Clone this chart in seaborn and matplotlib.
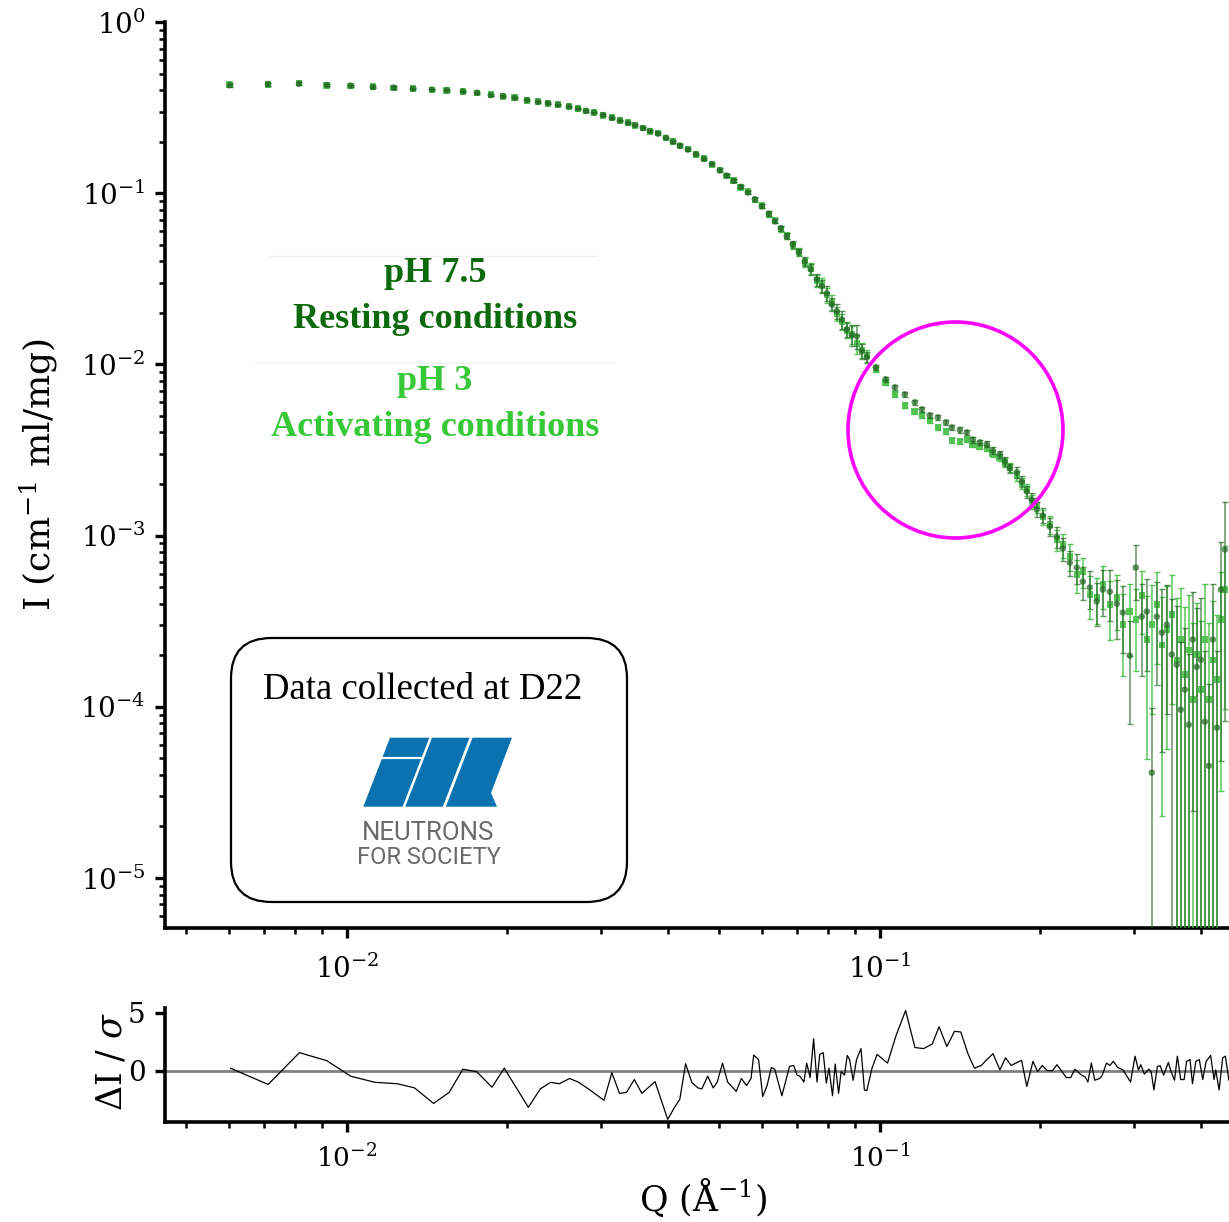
import matplotlib
matplotlib.use("Agg")
import matplotlib.pyplot as plt
import seaborn as sns
import numpy as np
from matplotlib.patches import Ellipse, FancyBboxPatch, Polygon
from matplotlib.lines import Line2D
from matplotlib.ticker import LogLocator, NullFormatter, FixedLocator

# ---------------- data ----------------
q = [0.00603, 0.00711, 0.00813, 0.00917, 0.01017, 0.01119, 0.01225, 0.01330, 0.01444, 0.01540,
     0.01651, 0.01754, 0.01863, 0.01962, 0.02066, 0.02176, 0.02282, 0.02383, 0.02488, 0.02609,
     0.02713, 0.02808, 0.02907, 0.03022, 0.03142, 0.03252, 0.03367, 0.03470, 0.03592, 0.03703,
     0.03833, 0.03967, 0.04089, 0.04215, 0.04363, 0.04516, 0.04675, 0.04839, 0.05009, 0.05162,
     0.05321, 0.05484, 0.05653, 0.05827, 0.06006, 0.06190, 0.06353, 0.06520, 0.06691, 0.06867,
     0.07047, 0.07232, 0.07422, 0.07617, 0.07784, 0.07954, 0.08126, 0.08304, 0.08486, 0.08671,
     0.08861, 0.09053, 0.09251, 0.09453, 0.09829, 0.1026, 0.1067, 0.1114, 0.1163, 0.1199,
     0.1241, 0.1285, 0.1330, 0.1365, 0.1413, 0.1456, 0.1494, 0.1540, 0.1588, 0.1629,
     0.1679, 0.1716, 0.1754, 0.1807, 0.1847, 0.1887, 0.1928, 0.1971, 0.2022, 0.2084,
     0.2148, 0.2205, 0.2272, 0.2342, 0.2404, 0.2477, 0.2553, 0.2621, 0.2701, 0.2784,
     0.2857, 0.2944, 0.3022, 0.3101, 0.3169, 0.3238, 0.3309, 0.3381, 0.3455, 0.3530,
     0.3607, 0.3670, 0.3734, 0.3799, 0.3865, 0.3932, 0.4003, 0.4072, 0.4143, 0.4216,
     0.4289, 0.4364, 0.4440]

i_ph75 = [0.428, 0.434, 0.437, 0.428, 0.425, 0.417, 0.414, 0.408, 0.403, 0.399,
          0.393, 0.386, 0.374, 0.369, 0.361, 0.350, 0.342, 0.336, 0.329, 0.321,
          0.312, 0.303, 0.296, 0.286, 0.276, 0.266, 0.258, 0.250, 0.240, 0.231,
          0.223, 0.211, 0.200, 0.190, 0.180, 0.169, 0.159, 0.148, 0.136, 0.127,
          0.118, 0.109, 0.101, 0.0922, 0.0839, 0.0759, 0.0686, 0.0624, 0.0560, 0.0503,
          0.0452, 0.0400, 0.0359, 0.0314, 0.0286, 0.0260, 0.0224, 0.0204, 0.0183, 0.0160,
          0.0148, 0.0146, 0.0119, 0.0110, 0.00961, 0.00818, 0.00734, 0.00668, 0.00600, 0.00546,
          0.00504, 0.00490, 0.00458, 0.00428, 0.00414, 0.00400, 0.00364, 0.00350, 0.00341, 0.00314,
          0.00298, 0.00271, 0.00247, 0.00234, 0.00207, 0.00181, 0.00162, 0.00142, 0.00131, 0.00113,
          0.000987, 0.000840, 0.000695, 0.000650, 0.000539, 0.000497, 0.000412, 0.000483, 0.000470, 0.000400,
          0.000355, 0.000199, 0.000650, 0.000336, 0.000360, 0.0000412, 0.000336, 0.000271, 0.000302, 0.000202,
          0.000176, 0.0000961, 0.000126, 0.0000785, 0.000247, 0.000171, 0.000188, 0.0000818, 0.0000452, 0.000247,
          0.0000755, 0.000483, 0.000829]

i_ph3 = [0.432, 0.430, 0.440, 0.426, 0.424, 0.419, 0.412, 0.410, 0.401, 0.397,
         0.394, 0.384, 0.376, 0.367, 0.362, 0.349, 0.343, 0.334, 0.330, 0.320,
         0.313, 0.302, 0.297, 0.285, 0.277, 0.265, 0.259, 0.249, 0.241, 0.230,
         0.224, 0.210, 0.201, 0.189, 0.181, 0.168, 0.160, 0.147, 0.137, 0.126,
         0.119, 0.108, 0.102, 0.0915, 0.0845, 0.0752, 0.0692, 0.0618, 0.0566, 0.0497,
         0.0458, 0.0395, 0.0364, 0.0308, 0.0292, 0.0254, 0.0230, 0.0198, 0.0178, 0.0158,
         0.0150, 0.0132, 0.0121, 0.0112, 0.00935, 0.00785, 0.00668, 0.00576, 0.00531, 0.00504,
         0.00471, 0.00428, 0.00406, 0.00359, 0.00354, 0.00364, 0.00341, 0.00332, 0.00323, 0.00302,
         0.00286, 0.00267, 0.00250, 0.00224, 0.00202, 0.00186, 0.00158, 0.00150, 0.00128, 0.00116,
         0.000948, 0.000886, 0.000754, 0.000591, 0.000616, 0.000452, 0.000434, 0.000517, 0.000395, 0.000434,
         0.000302, 0.000360, 0.000323, 0.000446, 0.000247, 0.000302, 0.000395, 0.000230, 0.000282, 0.000345,
         0.000188, 0.000247, 0.000154, 0.000215, 0.000110, 0.000202, 0.000126, 0.000247, 0.000110, 0.000188,
         0.000144, 0.000323, 0.000483]

relerr_ph75 = [0.02, 0.02, 0.02, 0.015, 0.015, 0.015, 0.015, 0.012, 0.012, 0.012,
               0.012, 0.012, 0.012, 0.012, 0.012, 0.012, 0.012, 0.012, 0.012, 0.012,
               0.012, 0.012, 0.012, 0.012, 0.012, 0.012, 0.012, 0.012, 0.012, 0.012,
               0.015, 0.015, 0.015, 0.015, 0.015, 0.015, 0.015, 0.018, 0.018, 0.018,
               0.02, 0.02, 0.02, 0.025, 0.025, 0.03, 0.03, 0.035, 0.04, 0.05,
               0.05, 0.06, 0.07, 0.08, 0.09, 0.10, 0.09, 0.10, 0.12, 0.10,
               0.14, 0.16, 0.10, 0.08, 0.03, 0.03, 0.03, 0.03, 0.03, 0.03,
               0.03, 0.03, 0.03, 0.03, 0.035, 0.035, 0.04, 0.04, 0.04, 0.05,
               0.05, 0.06, 0.06, 0.07, 0.07, 0.08, 0.09, 0.10, 0.10, 0.12,
               0.14, 0.15, 0.17, 0.20, 0.22, 0.25, 0.28, 0.30, 0.33, 0.38,
               0.42, 0.60, 0.35, 0.55, 0.55, 1.40, 0.60, 0.80, 0.70, 1.10,
               1.20, 1.50, 1.30, 1.60, 0.90, 1.20, 1.30, 1.60, 2.00, 1.10,
               1.80, 0.90, 0.90]

relerr_ph3 = [0.02, 0.02, 0.02, 0.015, 0.015, 0.015, 0.015, 0.012, 0.012, 0.012,
              0.012, 0.012, 0.012, 0.012, 0.012, 0.012, 0.012, 0.012, 0.012, 0.012,
              0.012, 0.012, 0.012, 0.012, 0.012, 0.012, 0.012, 0.012, 0.012, 0.012,
              0.015, 0.015, 0.015, 0.015, 0.015, 0.015, 0.015, 0.018, 0.018, 0.018,
              0.02, 0.02, 0.02, 0.025, 0.025, 0.03, 0.03, 0.035, 0.04, 0.05,
              0.05, 0.06, 0.07, 0.08, 0.09, 0.10, 0.10, 0.09, 0.11, 0.10,
              0.12, 0.13, 0.10, 0.08, 0.03, 0.03, 0.03, 0.03, 0.03, 0.03,
              0.03, 0.03, 0.03, 0.03, 0.035, 0.035, 0.04, 0.04, 0.04, 0.05,
              0.05, 0.06, 0.06, 0.07, 0.07, 0.08, 0.09, 0.10, 0.10, 0.12,
              0.14, 0.16, 0.18, 0.22, 0.20, 0.28, 0.30, 0.28, 0.38, 0.35,
              0.50, 0.45, 0.50, 0.40, 0.80, 0.70, 0.55, 0.90, 0.80, 0.70,
              1.30, 1.00, 1.50, 1.10, 1.80, 1.00, 1.50, 1.10, 1.80, 1.20,
              1.40, 0.90, 0.80]

res_q = [0.00605, 0.00712, 0.00815, 0.00917, 0.01017, 0.01130, 0.01244, 0.01340, 0.01455, 0.01556,
         0.01651, 0.01752, 0.01873, 0.01974, 0.02191, 0.02307, 0.02412, 0.02504, 0.02618, 0.02717,
         0.02841, 0.03038, 0.03143, 0.03248, 0.03347, 0.03463, 0.03578, 0.03787, 0.04000, 0.04121,
         0.04215, 0.04322, 0.04439, 0.04560, 0.04635, 0.04755, 0.04869, 0.04956, 0.05069, 0.05182,
         0.05378, 0.05500, 0.05622, 0.05733, 0.05800, 0.05924, 0.06030, 0.06146, 0.06258, 0.06351,
         0.06551, 0.06770, 0.06891, 0.06996, 0.07078, 0.07205, 0.07292, 0.07400, 0.07513, 0.07624,
         0.07714, 0.07831, 0.07937, 0.08030, 0.08152, 0.08248, 0.08370, 0.08461, 0.08586, 0.08687,
         0.08777, 0.08911, 0.09043, 0.09220, 0.09357, 0.09454, 0.09669, 0.09884, 0.1034, 0.1073,
         0.1118, 0.1164, 0.1208, 0.1254, 0.1292, 0.1336, 0.1381, 0.1419, 0.1465, 0.1505,
         0.1551, 0.1583, 0.1631, 0.1680, 0.1721, 0.1764, 0.1845, 0.1887, 0.1938, 0.1978,
         0.2017, 0.2062, 0.2109, 0.2149, 0.2238, 0.2281, 0.2322, 0.2392, 0.2428, 0.2457,
         0.2494, 0.2531, 0.2585, 0.2615, 0.2662, 0.2702, 0.2742, 0.2796, 0.2859, 0.2954,
         0.3012, 0.3057, 0.3088, 0.3135, 0.3197, 0.3229, 0.3268, 0.3317, 0.3357, 0.3407,
         0.3478, 0.3520, 0.3572, 0.3616, 0.3669, 0.3724, 0.3763, 0.3820, 0.3860, 0.3917,
         0.3976, 0.4035, 0.4095, 0.4175, 0.4237, 0.4268, 0.4331, 0.4398, 0.4451, 0.4517]

res_val = [0.24, -1.16, 1.58, 0.89, -0.45, -0.98, -1.10, -1.46, -2.80, -1.85,
           0.15, -0.06, -1.40, 0.24, -3.13, -1.55, -0.98, -1.10, -0.65, -0.95,
           -1.55, -2.53, -0.15, -1.93, -1.85, -0.74, -1.93, -0.92, -4.17, -3.13,
           -2.44, 0.63, -1.00, -1.46, -1.55, -0.45, -1.46, -0.95, 0.68, -0.95,
           -1.76, -0.65, -1.25, -0.65, 1.37, 0.98, -2.20, -1.25, 0.30, 0.15,
           -2.14, 0.39, 0.48, -0.36, -0.45, -0.95, 0.68, -0.57, 2.77, -0.95,
           1.43, 1.58, -1.04, 0.24, -2.14, 0.60, -1.93, -0.06, -0.36, 1.34,
           0.98, -0.80, 0.98, 1.93, -1.64, -1.70, 0.24, 1.43, 0.68, 3.07,
           5.21, 2.02, 1.93, 2.32, 3.81, 2.11, 3.42, 3.36, 1.43, 0.24,
           0.48, 0.92, 1.49, 0.09, 1.13, 0.48, 0.92, -1.34, 0.83, -0.06,
           0.48, 0.03, 0.03, 0.54, -0.57, -0.57, 0.15, -0.36, -0.51, -0.95,
           0.68, -0.80, -0.65, -0.36, 0.68, 0.48, 0.83, 0.30, 0.09, -0.95,
           1.28, 0.09, 0.54, -0.27, 0.15, -0.06, -1.64, 0.39, 0.45, -0.36,
           0.74, -0.06, -0.80, 1.28, -0.74, -0.74, 0.83, 0.98, -1.10, 0.83,
           0.98, -0.74, 0.83, 1.34, -0.74, 0.09, -1.64, 1.13, 1.28, -0.80]

label_ph75 = ["pH 7.5", "Resting conditions"]
label_ph3 = ["pH 3", "Activating conditions"]

# ---------------- style ----------------
sns.set_theme(style="ticks")
plt.rcParams['font.family'] = ['DejaVu Serif']
plt.rcParams['mathtext.fontset'] = 'dejavuserif'
plt.rcParams['axes.unicode_minus'] = True
plt.rcParams['text.color'] = 'black'
plt.rcParams['axes.labelcolor'] = 'black'
plt.rcParams['xtick.color'] = 'black'
plt.rcParams['ytick.color'] = 'black'

DARK = '#236623'
LIGHT = '#48c048'
TXT_DARK = '#0c6a0c'
TXT_LIGHT = '#37c837'

W, H = 1229, 1222
fig = plt.figure(figsize=(W / 100, H / 100), dpi=100)


def fx(px):
    return px / W


def fy(py):
    return 1 - py / H


ax = fig.add_axes([fx(165), fy(928), 1 - fx(165), fy(22) - fy(928)])
ax2 = fig.add_axes([fx(165), fy(1122), 1 - fx(165), fy(1008) - fy(1122)])

for a in (ax, ax2):
    a.set_xscale('log')
    a.set_facecolor('white')
    sns.despine(ax=a)
    a.spines['left'].set_linewidth(2.6)
    a.spines['bottom'].set_linewidth(2.6)
    a.spines['left'].set_color('black')
    a.spines['bottom'].set_color('black')
    a.tick_params(which='major', direction='out', length=7, width=2.4, color='black',
                  labelcolor='black')
    a.tick_params(which='minor', direction='out', length=4.5, width=1.8, color='black')
    a.xaxis.set_major_locator(LogLocator(base=10, numticks=10))
    a.xaxis.set_minor_locator(LogLocator(base=10, subs=np.arange(2, 10), numticks=20))
    a.xaxis.set_minor_formatter(NullFormatter())
    a.set_xlim(4.56e-3, 0.452)

ax.set_yscale('log')
ax.set_ylim(5.1e-6, 1.0)
ax.yaxis.set_major_locator(LogLocator(base=10, numticks=10))
ax.yaxis.set_minor_locator(LogLocator(base=10, subs=np.arange(2, 10), numticks=20))
ax.yaxis.set_minor_formatter(NullFormatter())
ax.tick_params(axis='y', which='major', labelsize=20, pad=7)
ax.tick_params(axis='x', which='major', labelsize=20, pad=12)

# ---------------- data: errorbars + markers ----------------
q_arr = np.array(q)
for ivals, rel, col, mk, z, alp in [(i_ph3, relerr_ph3, LIGHT, 's', 3, 0.9),
                                     (i_ph75, relerr_ph75, DARK, 'o', 4, 0.7)]:
    iv = np.array(ivals)
    err = iv * np.array(rel)
    ax.errorbar(q_arr, iv, yerr=err, fmt='none', ecolor=col, elinewidth=1.1,
                capsize=2, capthick=1.0, alpha=alp, zorder=z)
    sns.scatterplot(x=q_arr, y=iv, ax=ax, color=col, marker=mk, s=22,
                    edgecolor='none', alpha=alp, zorder=z + 0.5, legend=False)

ax.set_ylabel(r'I (cm$^{-1}$ ml/mg)', fontsize=26, va='center')
ax.yaxis.set_label_coords(-0.119, 0.5)
ax.set_xlabel('')

# ---------------- residuals ----------------
ax2.axhline(0, color='#808080', lw=2.0, zorder=1)
sns.lineplot(x=res_q, y=res_val, ax=ax2, color='black', lw=0.9, estimator=None,
             sort=False, zorder=2)
ax2.set_ylim(-4.4, 5.43)
ax2.yaxis.set_major_locator(FixedLocator([0, 5]))
ax2.yaxis.set_minor_locator(FixedLocator([]))
ax2.tick_params(axis='x', which='major', labelsize=19, pad=9)
ax2.tick_params(axis='y', which='major', labelsize=20, pad=7)
ax2.set_ylabel(r'$\Delta$I / $\sigma$', fontsize=25, va='center')
ax2.yaxis.set_label_coords(-0.05, 0.53)
ax2.set_xlabel(r'Q ($\mathrm{\AA}^{-1}$)', fontsize=25, va='center')
ax2.xaxis.set_label_coords(0.5056, -0.66)

# ---------------- annotations ----------------
fig.add_artist(Line2D([fx(270), fx(597)], [fy(256), fy(256)], color='#f0f0f0', lw=1))
fig.add_artist(Line2D([fx(255), fx(615)], [fy(363), fy(363)], color='#f0f0f0', lw=1))
fig.text(fx(435), fy(274), label_ph75[0], color=TXT_DARK, fontsize=26, fontweight='bold',
         family='Liberation Serif', ha='center', va='center')
fig.text(fx(435), fy(320), label_ph75[1], color=TXT_DARK, fontsize=26, fontweight='bold',
         family='Liberation Serif', ha='center', va='center')
fig.text(fx(435), fy(382), label_ph3[0], color=TXT_LIGHT, fontsize=26, fontweight='bold',
         family='Liberation Serif', ha='center', va='center')
fig.text(fx(435), fy(427), label_ph3[1], color=TXT_LIGHT, fontsize=26, fontweight='bold',
         family='Liberation Serif', ha='center', va='center')

# magenta circle highlighting the shoulder
fig.add_artist(Ellipse((fx(955.5), fy(430)), 215 / W, 216 / H, transform=fig.transFigure,
                       fill=False, edgecolor='#ff00ff', lw=2.6, zorder=10))

# rounded info box with ILL logo
fig.add_artist(FancyBboxPatch((fx(231), fy(902)), 396 / W, 264 / H,
                              boxstyle="round,pad=0,rounding_size=0.033",
                              transform=fig.transFigure, fc='white', ec='black', lw=1.6,
                              zorder=5))
fig.text(fx(423), fy(690), 'Data collected at D22', fontsize=26.5, family='Liberation Serif',
         color='black', ha='center', va='center', zorder=6)

BLUE = '#0a72ae'
logo_blocks = [
    [(390, 737.7), (429.3, 737.7), (402.6, 806.7), (363.3, 806.7)],
    [(432.0, 737.7), (469.5, 737.7), (442.8, 806.7), (405.3, 806.7)],
    [(472.5, 737.7), (512.0, 737.7), (491.0, 793.0), (497.0, 806.7), (445.8, 806.7)],
]
for blk in logo_blocks:
    fig.add_artist(Polygon([(fx(a), fy(b)) for a, b in blk], closed=True,
                           transform=fig.transFigure, fc=BLUE, ec='none', zorder=6))
fig.add_artist(Line2D([fx(381), fx(422)], [fy(758), fy(758)], color='white', lw=1.6, zorder=7))
fig.text(fx(428.5), fy(833), 'NEUTRONS', fontsize=18.5, family='Roboto', color='#6a6a6a',
         ha='center', va='center', zorder=6)
fig.text(fx(428.5), fy(858), 'FOR SOCIETY', fontsize=17, family='Roboto', color='#6a6a6a',
         ha='center', va='center', zorder=6)

fig.savefig('out.png', dpi=100, facecolor='white')
